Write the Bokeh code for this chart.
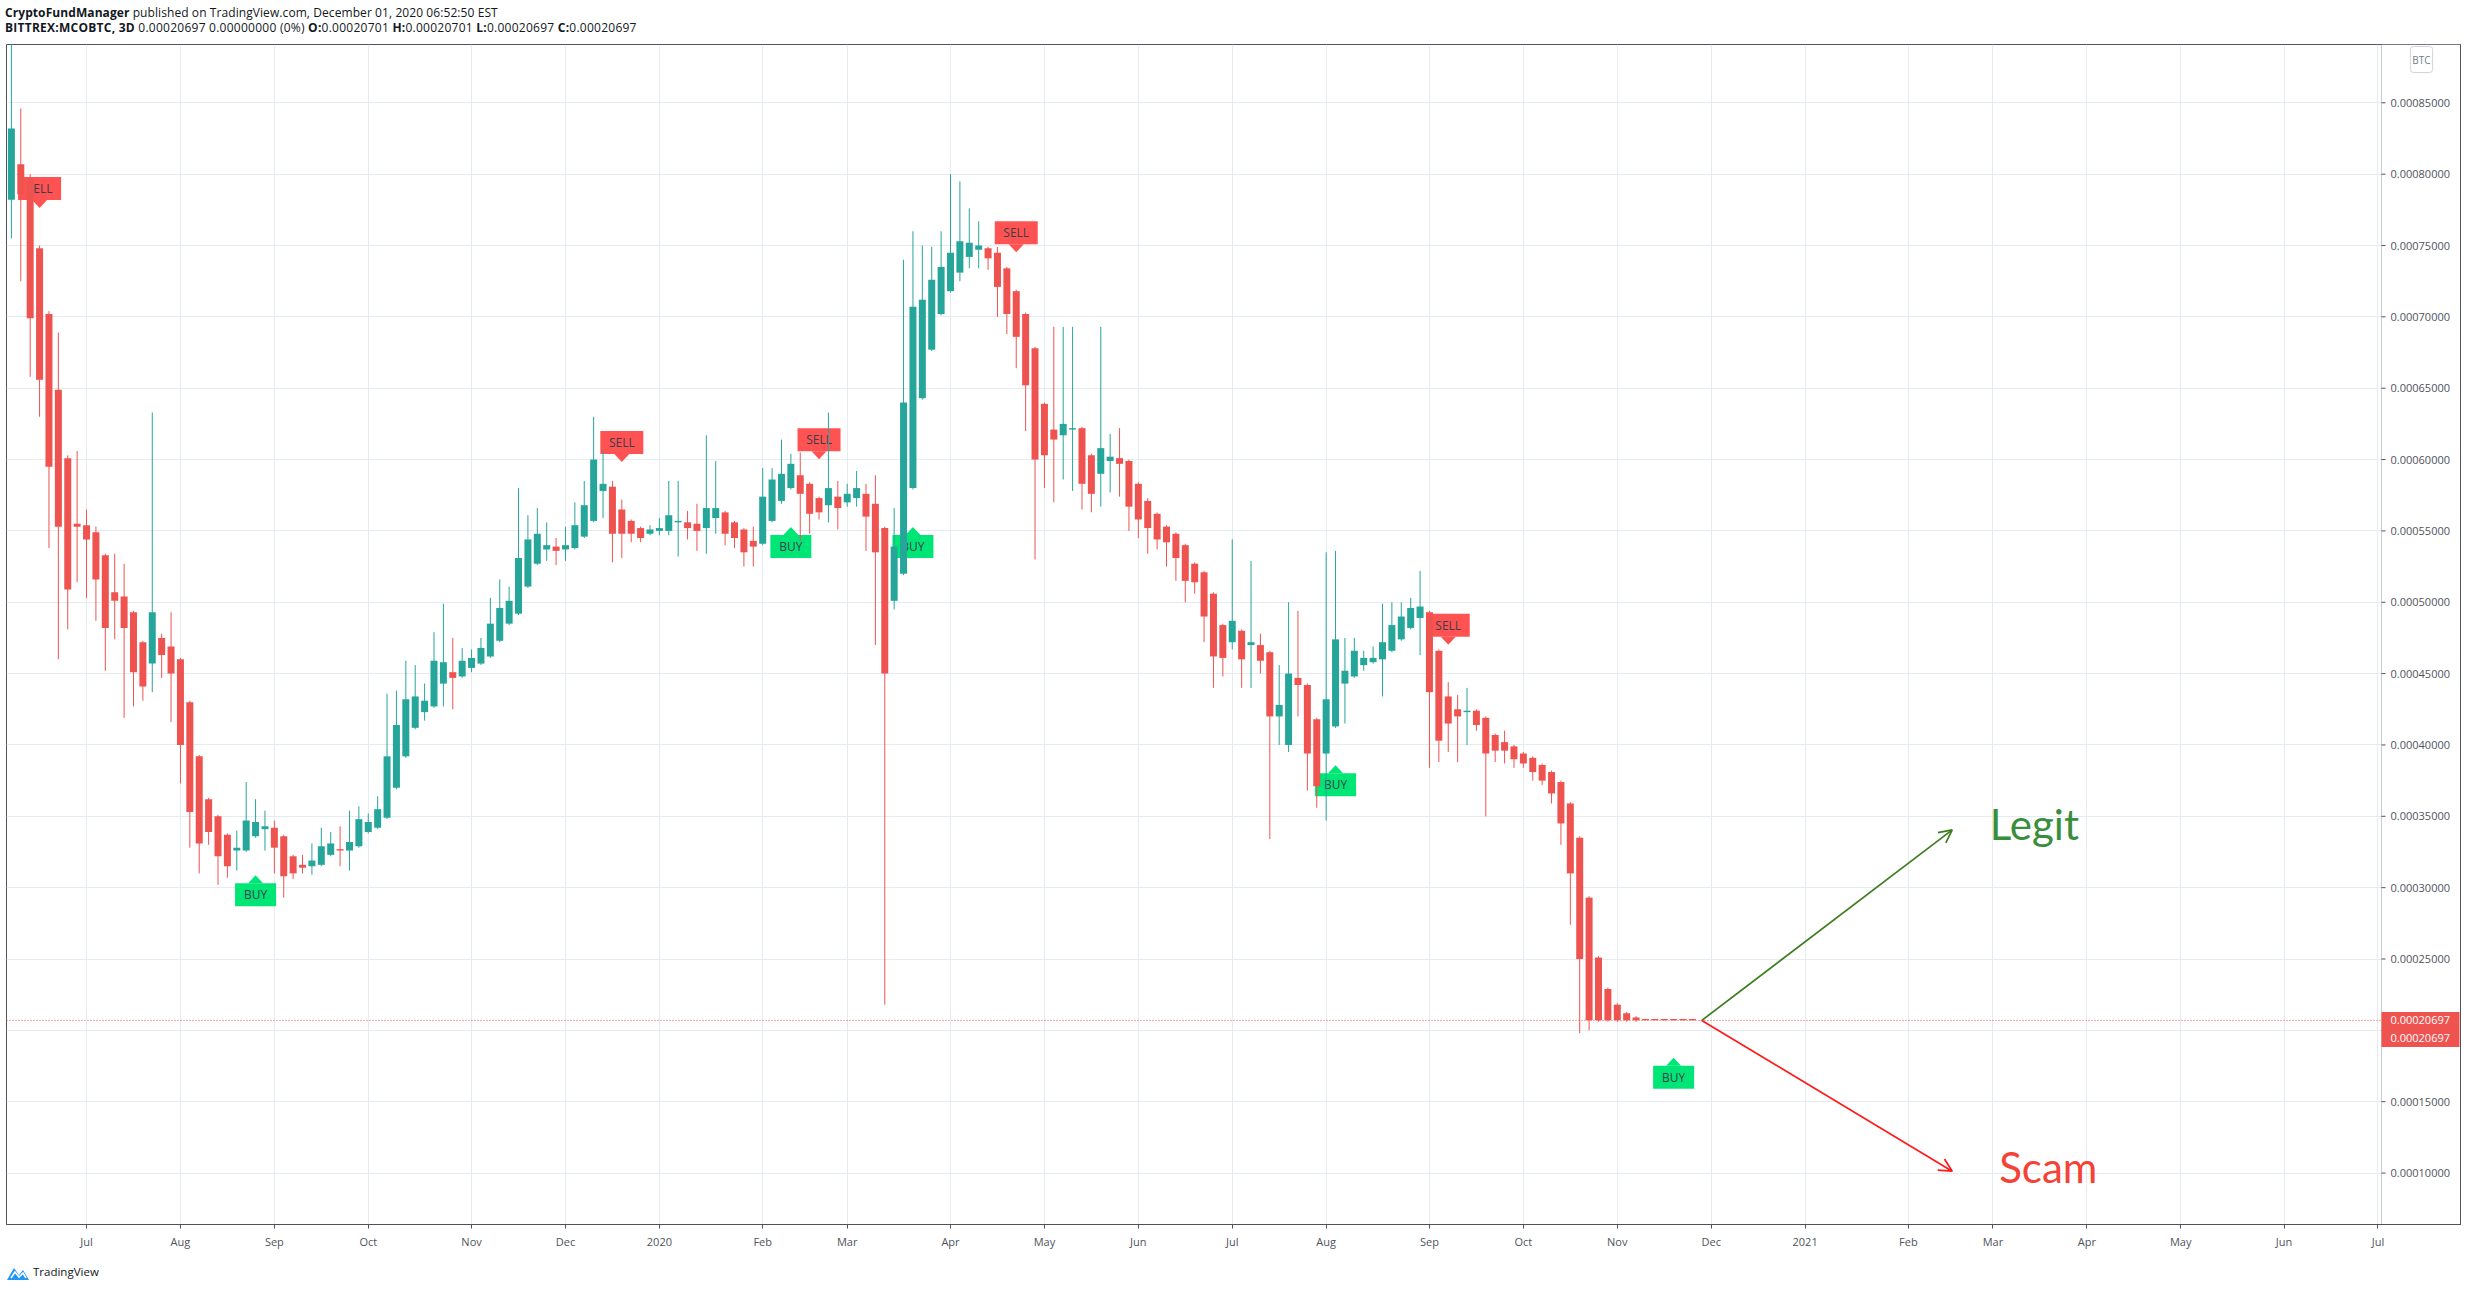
import datetime as dt
from bokeh.plotting import figure
from bokeh.layouts import column
from bokeh.models import (Range1d, FixedTicker, PrintfTickFormatter, Label, Arrow, OpenHead,
                          BoxAnnotation, Span, ColumnDataSource, Div)
from bokeh.embed import file_html
from bokeh.resources import INLINE
from bokeh.core.properties import value

# ---------------- data (BITTREX:MCOBTC, 3D bars) ----------------
first_bar = "2019-06-07"
bar_days = 3

opens = [
    0.000782, 0.000807, 0.000797, 0.000748, 0.000702, 0.000649, 0.000601, 0.000555, 0.000554, 0.000549,
    0.000533, 0.000507, 0.000504, 0.000493, 0.000472, 0.000457, 0.000475, 0.000469, 0.000460, 0.000430,
    0.000392, 0.000362, 0.000350, 0.000337, 0.000326, 0.000326, 0.000336, 0.000341, 0.000342, 0.000336,
    0.000322, 0.000316, 0.000315, 0.000316, 0.000323, 0.000327, 0.000326, 0.000329, 0.000339, 0.000342,
    0.000349, 0.000370, 0.000392, 0.000412, 0.000423, 0.000427, 0.000443, 0.000451, 0.000448, 0.000454,
    0.000457, 0.000462, 0.000473, 0.000485, 0.000492, 0.000511, 0.000527, 0.000537, 0.000539, 0.000537,
    0.000538, 0.000546, 0.000557, 0.000578, 0.000581, 0.000565, 0.000557, 0.000552, 0.000548, 0.000550,
    0.000550, 0.000556, 0.000556, 0.000555, 0.000552, 0.000559, 0.000563, 0.000556, 0.000551, 0.000543,
    0.000541, 0.000557, 0.000571, 0.000580, 0.000589, 0.000583, 0.000573, 0.000568, 0.000574, 0.000570,
    0.000573, 0.000576, 0.000569, 0.000552, 0.000501, 0.000520, 0.000580, 0.000643, 0.000677, 0.000702,
    0.000718, 0.000731, 0.000742, 0.000747, 0.000748, 0.000745, 0.000734, 0.000718, 0.000702, 0.000678,
    0.000639, 0.000621, 0.000617, 0.000621, 0.000622, 0.000603, 0.000590, 0.000599, 0.000601, 0.000599,
    0.000583, 0.000571, 0.000562, 0.000553, 0.000548, 0.000540, 0.000527, 0.000521, 0.000506, 0.000484,
    0.000472, 0.000480, 0.000470, 0.000470, 0.000465, 0.000420, 0.000400, 0.000447, 0.000442, 0.000418,
    0.000394, 0.000413, 0.000443, 0.000448, 0.000456, 0.000458, 0.000460, 0.000466, 0.000474, 0.000482,
    0.000489, 0.000493, 0.000466, 0.000434, 0.000425, 0.000423, 0.000424, 0.000419, 0.000407, 0.000402,
    0.000399, 0.000394, 0.000391, 0.000386, 0.000381, 0.000374, 0.000359, 0.000335, 0.000293, 0.000251,
    0.000229, 0.000218, 0.000212, 0.000209, 0.000208, 0.000208, 0.000208, 0.000208, 0.000208, 0.000208,
    0.00020701,
]
highs = [
    0.000920, 0.000846, 0.000800, 0.000750, 0.000704, 0.000689, 0.000603, 0.000606, 0.000565, 0.000553,
    0.000534, 0.000534, 0.000527, 0.000494, 0.000473, 0.000633, 0.000478, 0.000493, 0.000461, 0.000431,
    0.000393, 0.000363, 0.000351, 0.000338, 0.000340, 0.000374, 0.000362, 0.000354, 0.000347, 0.000337,
    0.000323, 0.000323, 0.000331, 0.000342, 0.000339, 0.000343, 0.000354, 0.000357, 0.000352, 0.000364,
    0.000436, 0.000438, 0.000459, 0.000456, 0.000443, 0.000479, 0.000499, 0.000475, 0.000468, 0.000467,
    0.000475, 0.000503, 0.000516, 0.000511, 0.000580, 0.000561, 0.000566, 0.000556, 0.000545, 0.000553,
    0.000570, 0.000585, 0.000630, 0.000606, 0.000585, 0.000572, 0.000558, 0.000553, 0.000554, 0.000559,
    0.000585, 0.000585, 0.000564, 0.000569, 0.000617, 0.000599, 0.000564, 0.000557, 0.000552, 0.000553,
    0.000594, 0.000594, 0.000614, 0.000604, 0.000605, 0.000584, 0.000574, 0.000633, 0.000585, 0.000583,
    0.000592, 0.000583, 0.000589, 0.000553, 0.000566, 0.000740, 0.000760, 0.000750, 0.000749, 0.000760,
    0.000800, 0.000795, 0.000776, 0.000767, 0.000749, 0.000749, 0.000735, 0.000719, 0.000703, 0.000679,
    0.000640, 0.000693, 0.000693, 0.000693, 0.000623, 0.000604, 0.000693, 0.000618, 0.000622, 0.000600,
    0.000584, 0.000573, 0.000563, 0.000554, 0.000549, 0.000541, 0.000528, 0.000522, 0.000507, 0.000485,
    0.000544, 0.000481, 0.000529, 0.000478, 0.000466, 0.000456, 0.000500, 0.000494, 0.000443, 0.000419,
    0.000535, 0.000536, 0.000475, 0.000475, 0.000466, 0.000469, 0.000499, 0.000500, 0.000500, 0.000503,
    0.000522, 0.000494, 0.000467, 0.000444, 0.000435, 0.000440, 0.000425, 0.000420, 0.000408, 0.000410,
    0.000400, 0.000395, 0.000392, 0.000387, 0.000382, 0.000375, 0.000360, 0.000336, 0.000294, 0.000252,
    0.000230, 0.000219, 0.000213, 0.000210, 0.000208, 0.000208, 0.000208, 0.000208, 0.000208, 0.000208,
    0.00020701,
]
lows = [
    0.000755, 0.000725, 0.000658, 0.000630, 0.000538, 0.000460, 0.000481, 0.000514, 0.000503, 0.000487,
    0.000452, 0.000474, 0.000419, 0.000427, 0.000431, 0.000437, 0.000447, 0.000416, 0.000373, 0.000328,
    0.000310, 0.000330, 0.000302, 0.000307, 0.000312, 0.000325, 0.000335, 0.000326, 0.000310, 0.000293,
    0.000306, 0.000310, 0.000309, 0.000315, 0.000322, 0.000315, 0.000312, 0.000328, 0.000338, 0.000341,
    0.000348, 0.000369, 0.000391, 0.000411, 0.000417, 0.000426, 0.000427, 0.000425, 0.000447, 0.000451,
    0.000456, 0.000461, 0.000472, 0.000484, 0.000491, 0.000510, 0.000526, 0.000529, 0.000526, 0.000529,
    0.000537, 0.000545, 0.000556, 0.000559, 0.000528, 0.000531, 0.000542, 0.000542, 0.000547, 0.000547,
    0.000547, 0.000532, 0.000544, 0.000536, 0.000534, 0.000548, 0.000540, 0.000538, 0.000525, 0.000525,
    0.000540, 0.000556, 0.000569, 0.000579, 0.000543, 0.000548, 0.000558, 0.000556, 0.000551, 0.000567,
    0.000567, 0.000536, 0.000470, 0.000218, 0.000495, 0.000519, 0.000579, 0.000642, 0.000676, 0.000701,
    0.000717, 0.000725, 0.000734, 0.000734, 0.000733, 0.000700, 0.000688, 0.000664, 0.000620, 0.000530,
    0.000580, 0.000570, 0.000586, 0.000578, 0.000565, 0.000563, 0.000567, 0.000577, 0.000574, 0.000550,
    0.000545, 0.000534, 0.000537, 0.000525, 0.000515, 0.000500, 0.000506, 0.000472, 0.000440, 0.000448,
    0.000467, 0.000440, 0.000440, 0.000450, 0.000334, 0.000400, 0.000395, 0.000420, 0.000368, 0.000356,
    0.000347, 0.000412, 0.000415, 0.000447, 0.000452, 0.000457, 0.000434, 0.000465, 0.000473, 0.000481,
    0.000463, 0.000384, 0.000388, 0.000395, 0.000388, 0.000400, 0.000410, 0.000350, 0.000388, 0.000387,
    0.000384, 0.000384, 0.000375, 0.000372, 0.000359, 0.000330, 0.000274, 0.000198, 0.000200, 0.000206,
    0.000206, 0.000206, 0.000206, 0.000206, 0.000207, 0.000207, 0.000207, 0.000207, 0.000207, 0.000207,
    0.00020697,
]
closes = [
    0.000832, 0.000786, 0.000699, 0.000656, 0.000595, 0.000553, 0.000509, 0.000553, 0.000544, 0.000516,
    0.000482, 0.000501, 0.000482, 0.000451, 0.000441, 0.000493, 0.000463, 0.000450, 0.000400, 0.000353,
    0.000331, 0.000339, 0.000322, 0.000315, 0.000328, 0.000347, 0.000346, 0.000343, 0.000328, 0.000308,
    0.000310, 0.000314, 0.000319, 0.000329, 0.000331, 0.000326, 0.000332, 0.000348, 0.000346, 0.000355,
    0.000392, 0.000414, 0.000432, 0.000434, 0.000431, 0.000459, 0.000458, 0.000447, 0.000459, 0.000461,
    0.000468, 0.000485, 0.000496, 0.000501, 0.000531, 0.000544, 0.000548, 0.000540, 0.000536, 0.000540,
    0.000554, 0.000568, 0.000600, 0.000583, 0.000548, 0.000548, 0.000548, 0.000545, 0.000551, 0.000552,
    0.000561, 0.000557, 0.000552, 0.000550, 0.000566, 0.000566, 0.000548, 0.000545, 0.000535, 0.000539,
    0.000574, 0.000586, 0.000590, 0.000597, 0.000576, 0.000562, 0.000563, 0.000580, 0.000566, 0.000576,
    0.000580, 0.000560, 0.000535, 0.000450, 0.000539, 0.000640, 0.000707, 0.000712, 0.000726, 0.000735,
    0.000745, 0.000753, 0.000752, 0.000750, 0.000741, 0.000721, 0.000702, 0.000686, 0.000652, 0.000600,
    0.000603, 0.000614, 0.000625, 0.000622, 0.000583, 0.000576, 0.000608, 0.000602, 0.000597, 0.000567,
    0.000558, 0.000552, 0.000544, 0.000542, 0.000531, 0.000515, 0.000514, 0.000490, 0.000462, 0.000461,
    0.000487, 0.000460, 0.000472, 0.000459, 0.000420, 0.000428, 0.000450, 0.000442, 0.000394, 0.000371,
    0.000432, 0.000474, 0.000452, 0.000466, 0.000461, 0.000461, 0.000472, 0.000484, 0.000490, 0.000496,
    0.000497, 0.000437, 0.000403, 0.000415, 0.000420, 0.000424, 0.000414, 0.000394, 0.000396, 0.000396,
    0.000390, 0.000387, 0.000381, 0.000375, 0.000366, 0.000345, 0.000310, 0.000250, 0.000207, 0.000207,
    0.000207, 0.000207, 0.000207, 0.000207, 0.000207, 0.000207, 0.000207, 0.000207, 0.000207, 0.000207,
    0.00020697,
]

month_labels = ["Jul", "Aug", "Sep", "Oct", "Nov", "Dec", "2020", "Feb", "Mar", "Apr", "May", "Jun",
                "Jul", "Aug", "Sep", "Oct", "Nov", "Dec", "2021", "Feb", "Mar", "Apr", "May", "Jun", "Jul"]
month_tick_bars = ["2019-07-01", "2019-07-31", "2019-08-30", "2019-09-29", "2019-11-01", "2019-12-01",
                   "2019-12-31", "2020-02-02", "2020-02-29", "2020-04-02", "2020-05-02", "2020-06-01",
                   "2020-07-01", "2020-07-31", "2020-09-02", "2020-10-02", "2020-11-01", "2020-12-01",
                   "2020-12-31", "2021-02-02", "2021-03-01", "2021-03-31", "2021-04-30", "2021-06-02",
                   "2021-07-02"]
price_ticks = [0.00010, 0.00015, 0.00020, 0.00025, 0.00030, 0.00035, 0.00040, 0.00045,
               0.00050, 0.00055, 0.00060, 0.00065, 0.00070, 0.00075, 0.00080, 0.00085]
last_price = 0.00020697
last_price_text = "0.00020697"

sell_dates = ["2019-06-16", "2019-12-19", "2020-02-20", "2020-04-23", "2020-09-08"]
buy_dates = ["2019-08-24", "2020-02-11", "2020-03-22", "2020-08-03", "2020-11-19"]

arrow_start = ("2020-11-28", 0.00020697)
legit_end = ("2021-02-16", 0.0003405)
scam_end = ("2021-02-16", 0.0001013)
legit_text = ("2021-02-28", 0.0003443)
scam_text = ("2021-03-03", 0.0001039)

# ---------------- helpers ----------------
D0 = dt.date.fromisoformat(first_bar)


def bar_pos(d):
    return (dt.date.fromisoformat(d) - D0).days / bar_days


UP, DOWN = "#26a69a", "#ef5350"
SELL_C, BUY_C = "#ff5252", "#00e676"
FONT = "Open Sans"
AXIS_C = "#50535e"
TXT = "#131722"

W = 2468
FRAME_L, FRAME_T = 6, 1
FRAME_W, FRAME_H = 2454, 1180
PANEL_W = 79                     # price-scale panel at the right end of the frame
X0, X1 = -0.522, 260.79
Y0, Y1 = 0.00006395, 0.00089086
dpp = (Y1 - Y0) / FRAME_H      # price per pixel
ipp = (X1 - X0) / FRAME_W      # bar index per pixel
x_sep = X1 - PANEL_W * ipp     # left edge of the price-scale panel (data units)

# ---------------- header ----------------
header = Div(
    text=(
        "<div style=\"font-family:'Open Sans';font-size:12px;color:%s;line-height:15px;"
        "padding:5px 0 0 5px;white-space:nowrap\">"
        "<span style='letter-spacing:0.08px'><b>CryptoFundManager</b> published on TradingView.com, "
        "December 01, 2020 06:52:50 EST</span><br>"
        "<span style='letter-spacing:0.25px'><b>BITTREX:MCOBTC, 3D</b> 0.00020697 0.00000000 (0%%) "
        "<b>O:</b>0.00020701 <b>H:</b>0.00020701 <b>L:</b>0.00020697 <b>C:</b>0.00020697</span></div>"
        % TXT),
    width=W, height=43, margin=(0, 0, 0, 0))

# ---------------- figure ----------------
p = figure(width=W, height=FRAME_T + FRAME_H + 29, output_backend="svg", toolbar_location=None,
           x_range=Range1d(X0, X1), y_range=Range1d(Y0, Y1), y_axis_location="right",
           min_border_left=FRAME_L, min_border_right=W - FRAME_L - FRAME_W,
           min_border_top=FRAME_T, min_border_bottom=29,
           background_fill_color="white", border_fill_color="white", margin=(0, 0, 0, 0))
p.outline_line_color = AXIS_C

tick_idx = [int(round(bar_pos(d))) for d in month_tick_bars]
xt = FixedTicker(ticks=tick_idx)
yt = FixedTicker(ticks=price_ticks)
p.xaxis.ticker = xt
p.xaxis.major_label_overrides = {t: lab for t, lab in zip(tick_idx, month_labels)}
p.yaxis.ticker = yt
p.yaxis.formatter = PrintfTickFormatter(format="%.8f")
p.xgrid.ticker = xt
p.ygrid.ticker = yt
p.grid.grid_line_color = "#e4ebf1"
p.grid.grid_line_width = 1

for ax in (p.xaxis[0], p.yaxis[0]):
    ax.axis_line_color = AXIS_C
    ax.major_tick_line_color = AXIS_C
    ax.minor_tick_out = 0
    ax.minor_tick_in = 0
    ax.major_label_text_font = FONT
    ax.major_label_text_font_size = "11px"
    ax.major_label_text_color = AXIS_C
p.xaxis.major_tick_out = 4
p.xaxis.major_tick_in = 0
p.xaxis.major_label_standoff = 5
# price labels sit inside the price-scale panel, left of the outer border
p.yaxis.major_tick_out = 0
p.yaxis.major_tick_in = 0
p.yaxis.major_label_standoff = -70

# price-scale panel (covers the grid at the right end of the frame)
p.add_layout(BoxAnnotation(left=FRAME_W - PANEL_W, right=FRAME_W, top=FRAME_H, bottom=0,
                           left_units="screen", right_units="screen", top_units="screen",
                           bottom_units="screen", fill_color="white", fill_alpha=1,
                           line_color=AXIS_C, line_width=1, level="underlay"))
# small price-scale ticks on the panel edge
p.segment(x0=[x_sep] * len(price_ticks), x1=[x_sep + 4 * ipp] * len(price_ticks),
          y0=price_ticks, y1=price_ticks, line_color=AXIS_C, line_width=1)

# ---------------- signal labels (under the candles) ----------------
sell_x = [int(round(bar_pos(d))) for d in sell_dates]
buy_x = [int(round(bar_pos(d))) for d in buy_dates]
sell_tip = [highs[i] + 37.5 * dpp for i in sell_x]
buy_tip = [lows[i] - 37.5 * dpp for i in buy_x]

p.patches(xs=[[x - 7.5 * ipp, x + 7.5 * ipp, x] for x in sell_x],
          ys=[[t + 8 * dpp, t + 8 * dpp, t] for t in sell_tip],
          fill_color=SELL_C, line_color=None)
p.rect(x=sell_x, y=[t + 19.5 * dpp for t in sell_tip], width=43, height=23,
       width_units="screen", height_units="screen", fill_color=SELL_C, line_color=None)
p.text(x=sell_x, y=[t + 19.5 * dpp for t in sell_tip], text=["SELL"] * len(sell_x),
       text_align="center", text_baseline="middle", text_font=value(FONT),
       text_font_size="12px", text_color="#3b3f4a")

p.patches(xs=[[x - 7.5 * ipp, x + 7.5 * ipp, x] for x in buy_x],
          ys=[[t - 8 * dpp, t - 8 * dpp, t] for t in buy_tip],
          fill_color=BUY_C, line_color=None)
p.rect(x=buy_x, y=[t - 19.5 * dpp for t in buy_tip], width=41, height=23,
       width_units="screen", height_units="screen", fill_color=BUY_C, line_color=None)
p.text(x=buy_x, y=[t - 19.5 * dpp for t in buy_tip], text=["BUY"] * len(buy_x),
       text_align="center", text_baseline="middle", text_font=value(FONT),
       text_font_size="12px", text_color="#3b3f4a")

# ---------------- candles ----------------
n = min(len(opens), len(highs), len(lows), len(closes))
colors = [UP if closes[i] >= opens[i] else DOWN for i in range(n)]
src = ColumnDataSource(dict(
    x=list(range(n)), o=opens[:n], h=highs[:n], l=lows[:n], c=closes[:n],
    top=[max(opens[i], closes[i]) for i in range(n)],
    bottom=[min(opens[i], closes[i]) for i in range(n)],
    color=colors))
p.segment(x0="x", y0="l", x1="x", y1="h", line_color="color", line_width=1, source=src)
p.vbar(x="x", width=0.745, top="top", bottom="bottom", fill_color="color",
       line_color=None, source=src)

# last price line
p.add_layout(Span(location=last_price, dimension="width", line_color="#ef5350",
                  line_dash="1 2", line_width=1))

# arrows and texts
x_s = bar_pos(arrow_start[0])
p.add_layout(Arrow(end=OpenHead(size=13, line_color="#3f7d20", line_width=1.7),
                   x_start=x_s, y_start=arrow_start[1],
                   x_end=bar_pos(legit_end[0]), y_end=legit_end[1],
                   line_color="#3f7d20", line_width=1.7))
p.add_layout(Arrow(end=OpenHead(size=13, line_color="#ff1a1a", line_width=1.7),
                   x_start=x_s, y_start=arrow_start[1],
                   x_end=bar_pos(scam_end[0]), y_end=scam_end[1],
                   line_color="#ff1a1a", line_width=1.7))
p.add_layout(Label(x=bar_pos(legit_text[0]), y=legit_text[1], text="Legit",
                   text_font="Lato", text_font_size="42px", text_color="#388e3c",
                   text_baseline="middle", text_align="left"))
p.add_layout(Label(x=bar_pos(scam_text[0]), y=scam_text[1], text="Scam",
                   text_font="Lato", text_font_size="42px", text_color="#f44336",
                   text_baseline="middle", text_align="left"))

# price tags on the price scale
ys = (last_price - Y0) / dpp      # screen height of the last price inside the frame
p.add_layout(BoxAnnotation(left=FRAME_W - PANEL_W, right=FRAME_W - 1, top=ys + 8.3, bottom=ys - 26.6,
                           left_units="screen", right_units="screen", top_units="screen",
                           bottom_units="screen", fill_color="#ef5350", fill_alpha=1,
                           line_color=None))
for off in (0, -17.6):
    p.add_layout(Label(x=FRAME_W - PANEL_W + 9, y=last_price, y_offset=off,
                       x_units="screen", y_units="data",
                       text=last_price_text, text_font=FONT, text_font_size="11px",
                       text_color="white", text_baseline="middle", text_align="left"))

# BTC badge
p.add_layout(Label(x=FRAME_W - PANEL_W + 40, y=FRAME_H - 15, x_units="screen", y_units="screen",
                   text="BTC", text_font=FONT, text_font_size="10px", text_color="#787b86",
                   text_align="center", text_baseline="middle", background_fill_color="white",
                   border_line_color="#d1d4dc", border_radius=3, padding=(2, 6)))

# ---------------- footer ----------------
footer = Div(
    text=(
        "<div style=\"border-top:1px solid %s;height:36px;position:relative;"
        "font-family:'Open Sans';font-size:11.5px;color:%s\">"
        "<svg width='24' height='16' style='position:absolute;left:6px;top:11px'>"
        "<path d='M1 15 L8 3 L13 10 L17 5 L23 15 Z' fill='#2196f3'/>"
        "<path d='M5 13 L9 7 L13 12 L17 8 L20 13' stroke='white' stroke-width='1.6' fill='none'/>"
        "</svg>"
        "<span style='position:absolute;left:33px;top:10px'>TradingView</span></div>"
        % (AXIS_C, TXT)),
    width=W, height=37, margin=(0, 0, 0, 0))

layout = column(header, p, footer, spacing=0)
open("out.html", "w").write(file_html(layout, INLINE))
